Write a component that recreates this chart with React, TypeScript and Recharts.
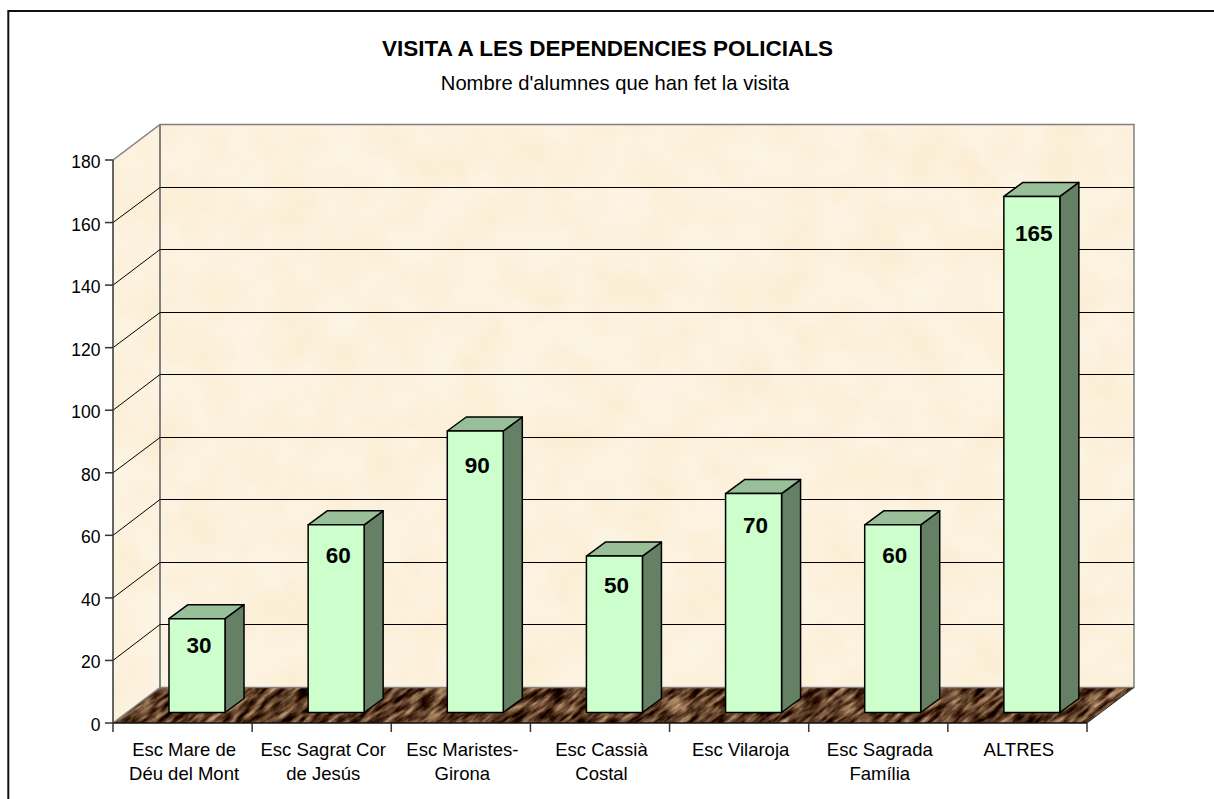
import { BarChart, Bar, XAxis, YAxis, CartesianGrid, LabelList } from 'recharts';

const categories = [
  'Esc Mare de\nDéu del Mont',
  'Esc Sagrat Cor\nde Jesús',
  'Esc Maristes-\nGirona',
  'Esc Cassià\nCostal',
  'Esc Vilaroja',
  'Esc Sagrada\nFamília',
  'ALTRES',
];
const alumnes = [30, 60, 90, 50, 70, 60, 165];
const yTicks = [0, 20, 40, 60, 80, 100, 120, 140, 160, 180];

const data = categories.map((name, i) => ({ name, alumnes: alumnes[i] }));

const WIDTH = 1214;
const HEIGHT = 799;
const LEFT = 113;
const RIGHT = 1087;
const TOP = 160;
const BOTTOM = 723;
// depth of the fake 3D box and of the bars
const DX = 47;
const DY = 35.5;
const BAR_DX = 19;
const BAR_DY = 14;
const BAR_SHIFT_X = 14;
const BAR_SHIFT_Y = 10.5;
const BAND = (RIGHT - LEFT) / categories.length;
const FONT = '"Liberation Sans", Arial, sans-serif';
const GREY = '#808080';

function Backdrop() {
  const wall = `${LEFT},${TOP} ${LEFT + DX},${TOP - DY} ${RIGHT + DX},${TOP - DY} ${RIGHT + DX},${BOTTOM - DY} ${LEFT + DX},${BOTTOM - DY} ${LEFT},${BOTTOM}`;
  const floor = `${LEFT},${BOTTOM} ${LEFT + DX},${BOTTOM - DY} ${RIGHT + DX},${BOTTOM - DY} ${RIGHT},${BOTTOM}`;
  return (
    <g>
      <defs>
        <filter id="parchment" x="0" y="0" width="100%" height="100%" colorInterpolationFilters="sRGB">
          <feTurbulence type="fractalNoise" baseFrequency="0.022" numOctaves={4} seed={7} />
          <feColorMatrix
            type="matrix"
            values="0 0 0 0 0.988  0.04 0 0 0 0.925  0.1 0 0 0 0.815  0 0 0 0 1"
          />
          <feComposite in2="SourceAlpha" operator="in" />
        </filter>
        <filter id="wood" x="0" y="0" width="100%" height="100%" colorInterpolationFilters="sRGB">
          <feTurbulence type="fractalNoise" baseFrequency="0.045 0.2" numOctaves={4} seed={3} />
          <feColorMatrix
            type="matrix"
            values="1.3 0 0 0 -0.29  1.2 0 0 0 -0.36  1.0 0 0 0 -0.35  0 0 0 0 1"
          />
        </filter>
        <pattern id="woodFill" x="-800" y="0" width="1600" height="1600" patternUnits="userSpaceOnUse" patternTransform="rotate(-38)">
          <rect width="1600" height="1600" filter="url(#wood)" />
        </pattern>
      </defs>

      <line x1={8.3} y1={11} x2={WIDTH} y2={11} stroke="#111" strokeWidth={2} />
      <line x1={8.3} y1={10} x2={8.3} y2={HEIGHT} stroke="#111" strokeWidth={2} />

      <text x={607.5} y={56} textAnchor="middle" fontFamily={FONT} fontWeight="bold" fontSize={22.5} fill="#000">
        VISITA A LES DEPENDENCIES POLICIALS
      </text>
      <text x={615} y={90} textAnchor="middle" fontFamily={FONT} fontSize={20.2} fill="#000">
        Nombre d'alumnes que han fet la visita
      </text>

      <polygon points={wall} fill="#fcf0da" filter="url(#parchment)" />
      <polygon points={floor} fill="url(#woodFill)" />

      <polyline
        points={`${LEFT},${TOP} ${LEFT + DX},${TOP - DY} ${RIGHT + DX},${TOP - DY} ${RIGHT + DX},${BOTTOM - DY} ${LEFT + DX},${BOTTOM - DY} ${LEFT},${BOTTOM}`}
        fill="none"
        stroke={GREY}
        strokeWidth={1.5}
      />
      <line x1={LEFT + DX} y1={TOP - DY} x2={LEFT + DX} y2={BOTTOM - DY} stroke={GREY} strokeWidth={2} />
      <line x1={RIGHT} y1={BOTTOM} x2={RIGHT + DX} y2={BOTTOM - DY} stroke="#333" strokeWidth={1} />
    </g>
  );
}

// gridline runs along the side wall and then across the back wall
function gridLine(props: any) {
  const { x1, y1, x2, key } = props;
  if (y1 >= BOTTOM - 1 || y1 <= TOP + 1) return <g key={key} />;
  const back = Math.floor(y1 - DY) + 0.5;
  return (
    <polyline
      key={key}
      points={`${x1},${y1} ${x1 + DX},${back} ${x2 + DX},${back}`}
      fill="none"
      stroke="#000"
      strokeWidth={1}
    />
  );
}

function Box3D(props: any) {
  const { x, y, width, height } = props;
  const l = x + BAR_SHIFT_X;
  const r = l + width;
  const t = y - BAR_SHIFT_Y;
  const b = t + height;
  return (
    <g stroke="#000" strokeWidth={1.5} strokeLinejoin="round">
      <polygon points={`${r},${t} ${r + BAR_DX},${t - BAR_DY} ${r + BAR_DX},${b - BAR_DY} ${r},${b}`} fill="#668066" />
      <polygon points={`${l},${t} ${l + BAR_DX},${t - BAR_DY} ${r + BAR_DX},${t - BAR_DY} ${r},${t}`} fill="#99bf99" />
      <rect x={l} y={t} width={width} height={height} fill="#ccffcc" />
    </g>
  );
}

function BarValue(props: any) {
  const { x, y, width, value } = props;
  // the label sits lower on taller bars, up to a limit
  const drop = Math.min(36.5, 22 + 0.13 * Number(value));
  return (
    <text
      x={x + width / 2 + BAR_SHIFT_X + 2}
      y={y - BAR_SHIFT_Y + drop + 8}
      textAnchor="middle"
      fontFamily={FONT}
      fontWeight="bold"
      fontSize={22.5}
      fill="#000"
    >
      {value}
    </text>
  );
}

function ValueTick(props: any) {
  const { x, y, payload } = props;
  return (
    <text x={x + 0.5} y={y + 8} textAnchor="end" fontFamily={FONT} fontSize={17.5} fill="#000">
      {payload.value}
    </text>
  );
}

function CategoryTick(props: any) {
  const { x, y, payload, index } = props;
  const lines = String(payload.value).split('\n');
  return (
    <g>
      {index === 0 && <line x1={x - BAND / 2} y1={BOTTOM} x2={x - BAND / 2} y2={BOTTOM + 9} stroke="#333" strokeWidth={1.5} />}
      <line x1={x + BAND / 2} y1={BOTTOM} x2={x + BAND / 2} y2={BOTTOM + 9} stroke="#333" strokeWidth={1.5} />
      {lines.map((line, i) => (
        <text
          key={i}
          x={x + 1.5}
          y={y + 24.5 + i * 24.5}
          textAnchor="middle"
          fontFamily={FONT}
          fontSize={18.5}
          fill="#000"
        >
          {line}
        </text>
      ))}
    </g>
  );
}

export default function App() {
  return (
    <div style={{ position: 'absolute', left: 0, top: 0, width: WIDTH, height: HEIGHT, background: '#fff', overflow: 'hidden' }}>
      <BarChart
        width={WIDTH}
        height={HEIGHT}
        data={data}
        margin={{ top: TOP, right: WIDTH - RIGHT, bottom: 0, left: LEFT - 50 }}
      >
        <Backdrop />
        <CartesianGrid vertical={false} horizontal={gridLine} zIndex={50} />
        <XAxis
          dataKey="name"
          height={HEIGHT - BOTTOM}
          interval={0}
          tickLine={false}
          tick={<CategoryTick />}
          axisLine={{ stroke: '#111', strokeWidth: 1.5 }}
        />
        <YAxis
          width={50}
          domain={[0, 180]}
          ticks={yTicks}
          tickSize={8}
          tickMargin={5}
          interval={0}
          tick={<ValueTick />}
          tickLine={{ stroke: '#333', strokeWidth: 1.5 }}
          axisLine={{ stroke: '#333', strokeWidth: 1.5 }}
        />
        <Bar dataKey="alumnes" barSize={56} shape={<Box3D />} isAnimationActive={false}>
          <LabelList dataKey="alumnes" content={<BarValue />} />
        </Bar>
      </BarChart>
    </div>
  );
}
